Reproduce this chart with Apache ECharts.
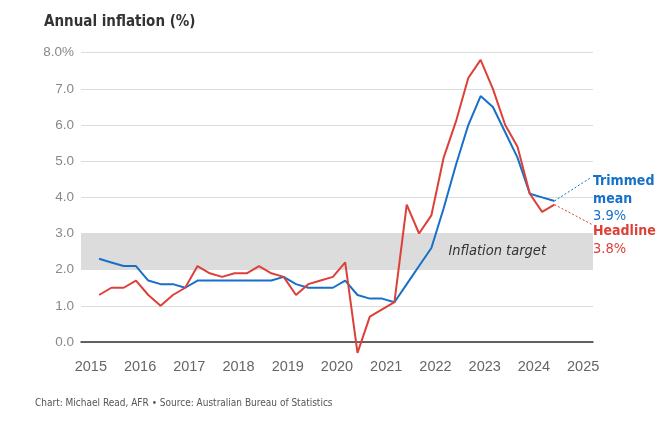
<!DOCTYPE html>
<html><head><meta charset="utf-8">
<script src="https://cdn.jsdelivr.net/npm/echarts@6/dist/echarts.min.js"></script>
<style>html,body{margin:0;padding:0;background:#fff}#c{width:657px;height:425px}</style>
</head><body><div id="c"></div>
<script>
const quarters = [
  '2015-03','2015-06','2015-09','2015-12','2016-03','2016-06','2016-09','2016-12',
  '2017-03','2017-06','2017-09','2017-12','2018-03','2018-06','2018-09','2018-12',
  '2019-03','2019-06','2019-09','2019-12','2020-03','2020-06','2020-09','2020-12',
  '2021-03','2021-06','2021-09','2021-12','2022-03','2022-06','2022-09','2022-12',
  '2023-03','2023-06','2023-09','2023-12','2024-03','2024-06'];
const headline = [1.3,1.5,1.5,1.7, 1.3,1.0,1.3,1.5, 2.1,1.9,1.8,1.9, 1.9,2.1,1.9,1.8,
  1.3,1.6,1.7,1.8, 2.2,-0.3,0.7,0.9, 1.1,3.8,3.0,3.5, 5.1,6.1,7.3,7.8, 7.0,6.0,5.4,4.1, 3.6,3.8];
const trimmedMean = [2.3,2.2,2.1,2.1, 1.7,1.6,1.6,1.5, 1.7,1.7,1.7,1.7, 1.7,1.7,1.7,1.8,
  1.6,1.5,1.5,1.5, 1.7,1.3,1.2,1.2, 1.1,1.6,2.1,2.6, 3.7,4.9,6.0,6.8, 6.5,5.8,5.1,4.1, 4.0,3.9];
const yearTicks = [2015,2016,2017,2018,2019,2020,2021,2022,2023,2024,2025];
const targetBand = [2, 3];
const trimmedLabelAnchor = [2025.16, 4.55];
const headlineLabelAnchor = [2025.18, 3.25];

const BLUE = '#1670c8', RED = '#dd4038';
const COND = '"DejaVu Sans Condensed", "Liberation Sans Narrow", sans-serif';
const toX = q => { const [y, m] = q.split('-').map(Number); return y + (m - 1) / 12; };
const headData = quarters.map((q, i) => [toX(q), headline[i]]);
const trimData = quarters.map((q, i) => [toX(q), trimmedMean[i]]);
const lastT = trimData[trimData.length - 1], lastH = headData[headData.length - 1];

const chart = echarts.init(document.getElementById('c'), null, {renderer: 'canvas'});
chart.setOption({
  animation: false,
  backgroundColor: '#fff',
  title: {
    text: 'Annual inflation (%)', left: 39, top: 10,
    textStyle: {fontFamily: COND, fontSize: 15, fontWeight: 'bold', color: '#333'}
  },
  grid: {left: 81, right: 64, top: 52.7, bottom: 83},
  xAxis: {
    type: 'value', min: 2014.8, max: 2025.2,
    splitLine: {show: false},
    axisLine: {show: true, onZero: true, lineStyle: {color: '#333', width: 1.5}},
    axisTick: {show: false},
    axisLabel: {customValues: yearTicks, formatter: v => String(v), margin: 17,
      fontFamily: 'Liberation Sans, sans-serif', fontSize: 14.5, color: '#666'}
  },
  yAxis: {
    type: 'value', min: 0, max: 8, interval: 1,
    axisLine: {show: false}, axisTick: {show: false},
    splitLine: {lineStyle: {color: '#dcdcdc', width: 1}},
    axisLabel: {margin: 7, fontFamily: 'Liberation Sans, sans-serif', fontSize: 13.5, color: '#888',
      formatter: v => v === 8 ? '8.0%' : v.toFixed(1)}
  },
  series: [
    {
      type: 'line', data: trimData, clip: false, symbol: 'none', z: 3,
      lineStyle: {color: BLUE, width: 2},
      markArea: {
        silent: true, itemStyle: {color: '#dcdcdc'},
        label: {show: true, position: 'insideRight', distance: 47, fontStyle: 'italic',
          fontFamily: COND, fontSize: 14.5, color: '#333'},
        data: [[{yAxis: targetBand[0], name: 'Inflation target'}, {yAxis: targetBand[1]}]]
      }
    },
    {
      type: 'line', data: headData, clip: false, symbol: 'none', z: 4,
      lineStyle: {color: RED, width: 2}
    },
    {
      type: 'line', clip: false, symbol: 'none', z: 2,
      lineStyle: {color: BLUE, width: 1, type: [2, 2]},
      data: [lastT, trimmedLabelAnchor],
      endLabel: {
        show: true, distance: 2, align: 'left', verticalAlign: 'top', offset: [0, -4.5],
        formatter: () => '{b|Trimmed}\n{b|mean}\n{n|' + lastT[1].toFixed(1) + '%}',
        rich: {
          b: {fontFamily: COND, fontSize: 14, fontWeight: 'bold', color: BLUE, lineHeight: 17.5},
          n: {fontFamily: COND, fontSize: 14.5, color: BLUE, lineHeight: 17.5}
        }
      }
    },
    {
      type: 'line', clip: false, symbol: 'none', z: 2,
      lineStyle: {color: RED, width: 1, type: [2, 2]},
      data: [lastH, headlineLabelAnchor],
      endLabel: {
        show: true, distance: 1, align: 'left', verticalAlign: 'top', offset: [0, -1.5],
        formatter: () => '{b|Headline}\n{n|' + lastH[1].toFixed(1) + '%}',
        rich: {
          b: {fontFamily: COND, fontSize: 14, fontWeight: 'bold', color: RED, lineHeight: 17.5},
          n: {fontFamily: COND, fontSize: 14.5, color: RED, lineHeight: 17.5}
        }
      }
    }
  ],
  graphic: [{
    type: 'text', left: 35, top: 398,
    style: {text: 'Chart: Michael Read, AFR • Source: Australian Bureau of Statistics',
      font: '10px "DejaVu Sans Condensed", "Liberation Sans Narrow", sans-serif', fill: '#555'}
  }]
});
</script>
</body></html>
